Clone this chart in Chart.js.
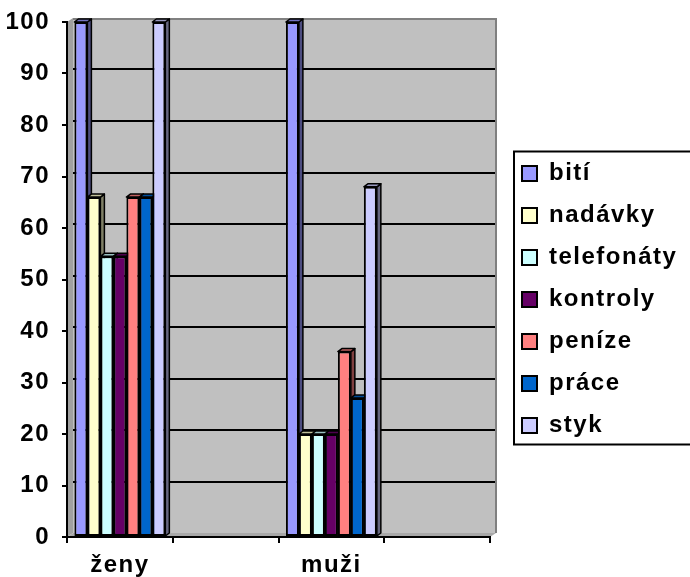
<!DOCTYPE html>
<html>
<head>
<meta charset="utf-8">
<script src="https://cdn.jsdelivr.net/npm/chart.js@4/dist/chart.umd.min.js"></script>
<style>
  html, body { margin: 0; padding: 0; background: #fff; }
  canvas { display: block; }
</style>
</head>
<body>
<canvas id="chart" width="690" height="577"></canvas>
<script>
// data
const CATEGORIES = ["ženy", "", "muži", ""];
const SERIES = ["bití", "nadávky", "telefonáty", "kontroly", "peníze", "práce", "styk"];
const COLORS = ["#9999FF", "#FFFFCC", "#CCFFFF", "#660066", "#FF8080", "#0066CC", "#CCCCFF"];
const ZENY = [100, 66, 54.5, 54.5, 66, 66, 100];
const MUZI = [100, 20, 20, 20, 36, 27, 68];
const Y_MAX = 100;
const Y_STEP = 10;

const WALL_DX = 6, WALL_DY = 4;   // depth of the back wall
const BAR_DX = 4, BAR_DY = 3;     // depth of each column

function shade(hex, f) {
  const n = parseInt(hex.slice(1), 16);
  const r = Math.round(((n >> 16) & 255) * f);
  const g = Math.round(((n >> 8) & 255) * f);
  const b = Math.round((n & 255) * f);
  return `rgb(${r},${g},${b})`;
}

function poly(ctx, pts, fill) {
  ctx.beginPath();
  ctx.moveTo(pts[0][0], pts[0][1]);
  for (let i = 1; i < pts.length; i++) ctx.lineTo(pts[i][0], pts[i][1]);
  ctx.closePath();
  ctx.fillStyle = fill;
  ctx.fill();
  ctx.stroke();
}

const datasets = SERIES.map((name, i) => ({
  label: name,
  data: [ZENY[i], null, MUZI[i], null],
  backgroundColor: COLORS[i],
  borderColor: "#000",
  borderWidth: 2,
  borderSkipped: false,
}));

// walls, floor and back-wall gridlines
const walls = {
  id: "walls",
  beforeUpdate(chart) { chart.ctx.letterSpacing = "1.5px"; },
  beforeDraw(chart) {
    const { ctx } = chart;
    const { left, right, top, bottom } = chart.chartArea;
    ctx.save();
    ctx.lineWidth = 0;
    ctx.strokeStyle = "rgba(0,0,0,0)";
    ctx.fillStyle = "#C0C0C0";
    ctx.fillRect(left + WALL_DX, top - WALL_DY, right - left, bottom - top);
    poly(ctx, [[left, top], [left + WALL_DX, top - WALL_DY], [left + WALL_DX, bottom - WALL_DY], [left, bottom]], "#A0A0A0");
    poly(ctx, [[left, bottom], [left + WALL_DX, bottom - WALL_DY], [right + WALL_DX, bottom - WALL_DY], [right, bottom]], "#A8A8A8");

    const y = chart.scales.y;
    ctx.strokeStyle = "#000";
    ctx.lineWidth = 2;
    y.ticks.forEach((t) => {
      if (t.value <= 0 || t.value >= Y_MAX) return;
      const py = Math.round(y.getPixelForValue(t.value)) - WALL_DY;
      ctx.beginPath();
      ctx.moveTo(left + WALL_DX, py);
      ctx.lineTo(right + WALL_DX, py);
      ctx.stroke();
    });

    ctx.strokeStyle = "#808080";
    ctx.beginPath();
    ctx.moveTo(left + WALL_DX, top - WALL_DY + 1);
    ctx.lineTo(right + WALL_DX, top - WALL_DY + 1);
    ctx.lineTo(right + WALL_DX, bottom - WALL_DY);
    ctx.stroke();

    // x axis runs out under the y ticks
    ctx.strokeStyle = "#000";
    ctx.beginPath();
    ctx.moveTo(left - 5, bottom);
    ctx.lineTo(left, bottom);
    ctx.stroke();
    ctx.restore();
  },
  // column sides and tops, drawn left to right so front faces cover them
  beforeDatasetsDraw(chart) {
    const { ctx } = chart;
    ctx.save();
    ctx.strokeStyle = "#000";
    ctx.lineWidth = 1.5;
    ctx.lineJoin = "round";
    for (let c = 0; c < CATEGORIES.length; c++) {
      for (let d = 0; d < SERIES.length; d++) {
        if (chart.data.datasets[d].data[c] == null) continue;
        const bar = chart.getDatasetMeta(d).data[c];
        if (!bar) continue;
        const { x, y, base, width } = bar.getProps(["x", "y", "base", "width"], true);
        const l = x - width / 2, r = x + width / 2;
        poly(ctx, [[r, y], [r + BAR_DX, y - BAR_DY], [r + BAR_DX, base - BAR_DY], [r, base]], shade(COLORS[d], 0.5));
        poly(ctx, [[l, y], [l + BAR_DX, y - BAR_DY], [r + BAR_DX, y - BAR_DY], [r, y]], shade(COLORS[d], 0.75));
      }
    }
    ctx.restore();
  },
};

// legend: fixed width, nudged into place, framed
const legendBox = {
  id: "legendBox",
  beforeInit(chart) {
    const legend = chart.legend;
    const fit = legend.fit;
    legend.fit = function () { fit.call(this); this.width = 200; };
  },
  afterLayout(chart) {
    const lg = chart.legend;
    lg.left += 14; lg.right += 14;
  },
  afterDraw(chart) {
    const hb = chart.legend.legendHitBoxes;
    if (!hb || !hb.length) return;
    const { ctx } = chart;
    const x0 = hb[0].left - 8;
    const y0 = hb[0].top - 10;
    const y1 = hb[hb.length - 1].top + hb[hb.length - 1].height + 7;
    ctx.save();
    ctx.strokeStyle = "#000";
    ctx.lineWidth = 2;
    ctx.strokeRect(x0, y0, chart.width + 10 - x0, y1 - y0);
    ctx.restore();
  },
};

Chart.defaults.font.family = 'Arial, "Liberation Sans", sans-serif';
Chart.defaults.color = "#000";

new Chart(document.getElementById("chart"), {
  type: "bar",
  data: { labels: CATEGORIES, datasets },
  options: {
    responsive: false,
    animation: false,
    layout: { padding: { top: 22, left: 0, right: 0, bottom: 0 } },
    datasets: { bar: { categoryPercentage: 0.86, barPercentage: 1 } },
    plugins: {
      tooltip: { enabled: false },
      legend: {
        position: "right",
        labels: {
          boxWidth: 15,
          boxHeight: 15,
          padding: 18,
          color: "#000",
          font: { size: 24, weight: "bold" },
        },
      },
    },
    scales: {
      x: {
        grid: { drawOnChartArea: false, tickLength: 6, color: "#000", lineWidth: 2, offset: true },
        border: { color: "#000", width: 2 },
        ticks: {
          color: "#000",
          font: { size: 24, weight: "bold", lineHeight: 1 },
          padding: 10,
          maxRotation: 0,
          autoSkip: false,
        },
        afterFit: (s) => { s.height = 40; },
      },
      y: {
        min: 0,
        max: Y_MAX,
        grid: { drawOnChartArea: false, tickLength: 5, color: "#000", lineWidth: 2 },
        border: { color: "#000", width: 2 },
        ticks: { stepSize: Y_STEP, color: "#000", padding: 12, font: { size: 24, weight: "bold", lineHeight: 0.8 } },
        afterFit: (s) => { s.width = 67; },
      },
    },
  },
  plugins: [walls, legendBox],
});
</script>
</body>
</html>
